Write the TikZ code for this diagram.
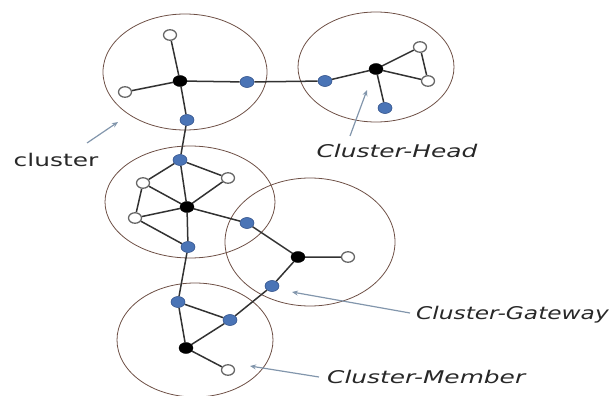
\documentclass[tikz,border=0pt]{standalone}
\usepackage{fontspec}
\usepackage{graphicx}
\setmainfont{DejaVu Sans}
\usetikzlibrary{shapes.geometric,arrows.meta,backgrounds}
\definecolor{bluenode}{RGB}{74,116,182}
\definecolor{bluedraw}{RGB}{52,84,140}
\definecolor{ringcol}{RGB}{110,80,70}
\definecolor{edgecol}{RGB}{50,50,50}
\definecolor{arrcol}{RGB}{130,150,172}
\definecolor{txtcol}{RGB}{40,40,40}
\tikzset{
  hd/.style={ellipse,fill=black,draw=black,minimum width=14pt,minimum height=11pt,inner sep=0pt},
  gw/.style={ellipse,fill=bluenode,draw=bluedraw,line width=0.6pt,minimum width=14pt,minimum height=11pt,inner sep=0pt},
  mb/.style={ellipse,fill=white,draw=gray!80!black,line width=1.3pt,minimum width=13pt,minimum height=10.5pt,inner sep=0pt},
  ring/.style={draw=ringcol,line width=0.8pt},
  link/.style={draw=edgecol,line width=1.5pt},
  pointer/.style={draw=arrcol,line width=1.2pt,-{Stealth[length=6pt,width=5pt]}},
  lbl/.style={text=txtcol,inner sep=0pt,font=\fontsize{17.5}{20}\selectfont},
  ilbl/.style={lbl,font=\fontsize{17.5}{20}\selectfont\itshape}
}
\begin{document}
\begin{tikzpicture}[x=1pt,y=-1pt]
\useasboundingbox (0,0) rectangle (613,396);
% nodes
\node[hd] (ah) at (180,81) {};
\node[mb] (aw1) at (170,35) {};
\node[mb] (aw2) at (125,92) {};
\node[gw] (ab1) at (187,120) {};
\node[gw] (ab2) at (247,82) {};
\node[gw] (bb1) at (325,81) {};
\node[hd] (bh) at (376,69) {};
\node[mb] (bw1) at (420,47) {};
\node[mb] (bw2) at (428,81) {};
\node[gw] (bb2) at (385,108) {};
\node[gw] (cb1) at (180,160) {};
\node[mb] (cw1) at (143,183) {};
\node[mb] (cw2) at (228,178) {};
\node[mb] (cw3) at (135,218) {};
\node[hd] (ch) at (187,207) {};
\node[gw] (cb2) at (188,247) {};
\node[gw] (cb3) at (247,223) {};
\node[hd] (dh) at (298,257) {};
\node[mb] (dw) at (348,257) {};
\node[gw] (db) at (272,286) {};
\node[gw] (eb1) at (178,302) {};
\node[gw] (eb2) at (230,320) {};
\node[hd] (eh) at (186,348) {};
\node[mb] (ew) at (228,370) {};
\begin{scope}[on background layer]
\draw[ring] (185,72) ellipse [x radius=82pt, y radius=58pt];
\draw[ring] (376,67) ellipse [x radius=78pt, y radius=55pt];
\draw[ring] (190,202) ellipse [x radius=85pt, y radius=56pt];
\draw[ring] (310,242) ellipse [x radius=85pt, y radius=64pt];
\draw[ring] (195,340) ellipse [x radius=78pt, y radius=57pt];
\path[link] (ah)--(aw1) (ah)--(aw2) (ah)--(ab1) (ah)--(ab2) (ab2)--(bb1)
  (bb1)--(bh) (bh)--(bw1) (bh)--(bw2) (bw1)--(bw2) (bh)--(bb2)
  (ab1)--(cb1)
  (cb1)--(cw1) (cb1)--(cw2) (cb1)--(ch) (cw1)--(cw3) (cw1)--(ch) (cw3)--(ch)
  (cw3)--(cb2) (cw2)--(ch) (ch)--(cb2) (ch)--(cb3)
  (cb3)--(dh) (dh)--(dw) (dh)--(db) (db)--(eb2)
  (cb2)--(eb1) (eb1)--(eb2) (eb1)--(eh) (eh)--(eb2) (eh)--(ew);
\end{scope}
% labels
\node[lbl] (tc) at (56,160) {\scalebox{1.42}[1]{cluster}};
\coordinate (tcs) at (87,143);
\coordinate (tct) at (118,122);
\draw[pointer] (tcs) -- (tct);
\node[ilbl] (th) at (397,151) {\scalebox{1.42}[1]{Cluster-Head}};
\coordinate (ths) at (350,136);
\coordinate (tht) at (367,90);
\draw[pointer] (ths) -- (tht);
\node[ilbl,anchor=west] (tg) at (416,315) {\scalebox{1.33}[1]{Cluster-Gateway}};
\coordinate (tgs) at (410,313);
\coordinate (tgt) at (292,292);
\draw[pointer] (tgs) -- (tgt);
\node[ilbl,anchor=west] (tm) at (327,377) {\scalebox{1.42}[1]{Cluster-Member}};
\coordinate (tms) at (319,377);
\coordinate (tmt) at (250,366);
\draw[pointer] (tms) -- (tmt);
\end{tikzpicture}
\end{document}
